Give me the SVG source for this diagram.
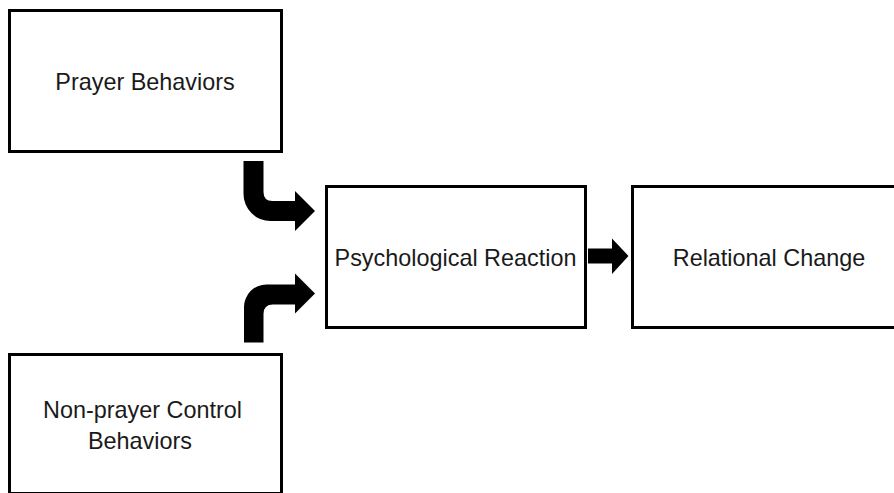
<svg xmlns="http://www.w3.org/2000/svg" width="894" height="493" viewBox="0 0 894 493">
<style>
.box{fill:#fff;stroke:#000;stroke-width:3}
.lbl{font-family:"Liberation Sans",Arial,sans-serif;font-size:23.4px;fill:#1a1a1a;text-anchor:middle}
.arr{fill:#000}
</style>
<rect width="894" height="493" fill="#fff"/>
<g id="connectors">
<path class="arr" d="M243.5,161 H263.5 V192 Q263.5,201 272.5,201 H295 V191 L315,211 L295,231 V221 H270.5 A27,27 0 0 1 243.5,194 Z"/>
<path class="arr" d="M244,342.5 H263.5 V314 Q263.5,304.5 273,304.5 H295 V313.5 L315,293.5 L295,273.5 V284.5 H266.5 A22.5,22.5 0 0 0 244,307 Z"/>
<path class="arr" d="M588,248.5 H612 V238.5 L628.5,256 L612,274 V263.5 H588 Z"/>
</g>
<g id="prayer">
<rect class="box" x="9.5" y="10.5" width="272" height="141"/>
<text class="lbl" x="145" y="90">Prayer Behaviors</text>
</g>
<g id="nonprayer">
<rect class="box" x="9.5" y="354.5" width="272" height="139"/>
<text class="lbl" x="142.5" y="418">Non-prayer Control</text>
<text class="lbl" x="140" y="449">Behaviors</text>
</g>
<g id="psych">
<rect class="box" x="326.5" y="186.5" width="259" height="141"/>
<text class="lbl" x="455.5" y="266">Psychological Reaction</text>
</g>
<g id="relational">
<rect class="box" x="632.5" y="186.5" width="274" height="141"/>
<text class="lbl" x="769" y="266">Relational Change</text>
</g>
</svg>
